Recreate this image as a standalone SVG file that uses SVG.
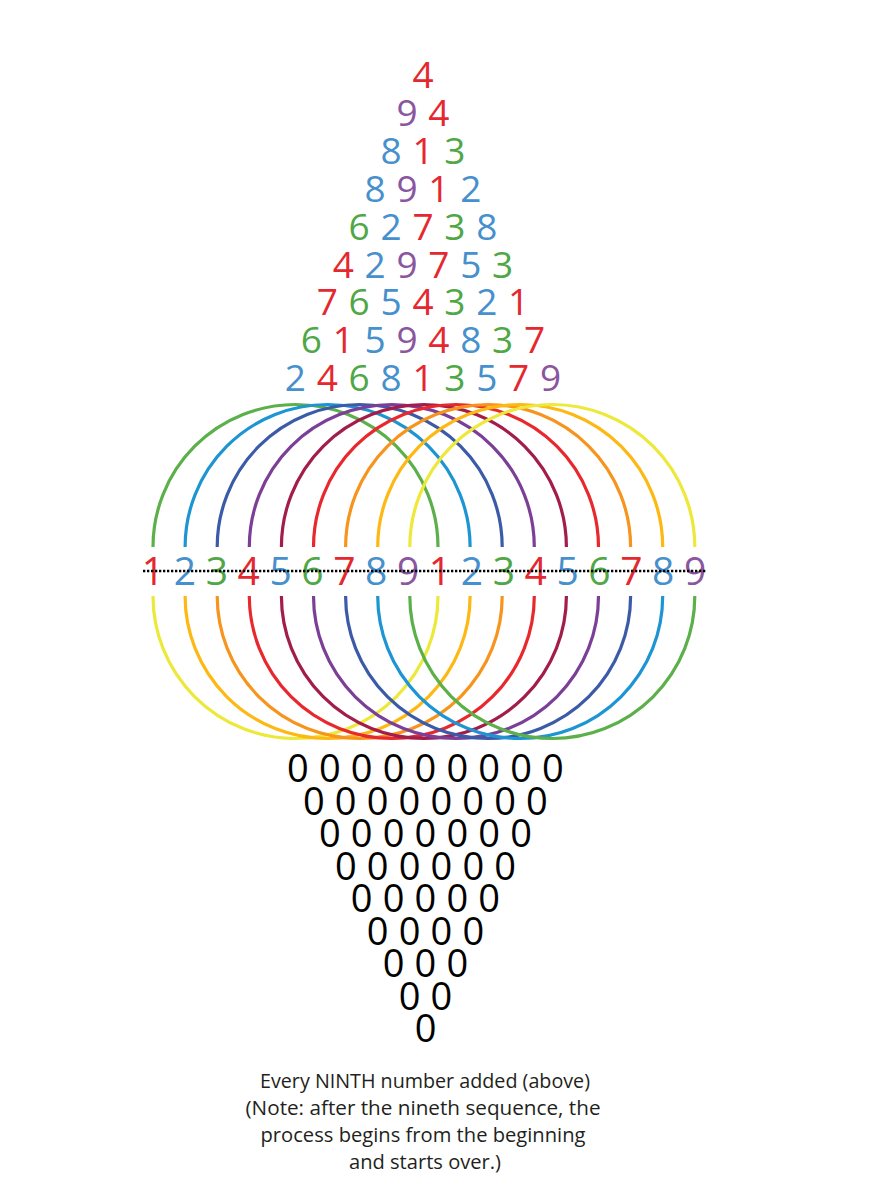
<svg xmlns="http://www.w3.org/2000/svg" width="885" height="1182" viewBox="0 0 885 1182">
<style>
.d{font-family:"Open Sans","Noto Sans","Liberation Sans",sans-serif}
.tri{font-size:37px;letter-spacing:0.56px}
.row{font-size:39px;letter-spacing:-0.28px}
.z{font-size:38px;letter-spacing:0.14px;fill:#000}
.r{fill:#e5282f}.b{fill:#4690cd}.g{fill:#50a746}.p{fill:#8b55a0}
.a{fill:none;stroke-width:3.2}
.note{font-size:20px;fill:#231f20;text-anchor:middle}
</style>
<rect width="885" height="1182" fill="#fff"/>
<g id="triangle" class="d tri">
<text x="412.42" y="88"><tspan class="r">4</tspan></text>
<text x="396.47" y="125.9"><tspan class="p">9</tspan> <tspan class="r">4</tspan></text>
<text x="380.52" y="163.8"><tspan class="b">8</tspan> <tspan class="r">1</tspan> <tspan class="g">3</tspan></text>
<text x="364.57" y="201.7"><tspan class="b">8</tspan> <tspan class="p">9</tspan> <tspan class="r">1</tspan> <tspan class="b">2</tspan></text>
<text x="348.62" y="239.6"><tspan class="g">6</tspan> <tspan class="b">2</tspan> <tspan class="r">7</tspan> <tspan class="g">3</tspan> <tspan class="b">8</tspan></text>
<text x="332.67" y="277.5"><tspan class="r">4</tspan> <tspan class="b">2</tspan> <tspan class="p">9</tspan> <tspan class="r">7</tspan> <tspan class="b">5</tspan> <tspan class="g">3</tspan></text>
<text x="316.72" y="315.4"><tspan class="r">7</tspan> <tspan class="g">6</tspan> <tspan class="b">5</tspan> <tspan class="r">4</tspan> <tspan class="g">3</tspan> <tspan class="b">2</tspan> <tspan class="r">1</tspan></text>
<text x="300.77" y="353.3"><tspan class="g">6</tspan> <tspan class="r">1</tspan> <tspan class="b">5</tspan> <tspan class="p">9</tspan> <tspan class="r">4</tspan> <tspan class="b">8</tspan> <tspan class="g">3</tspan> <tspan class="r">7</tspan></text>
<text x="284.82" y="391.2"><tspan class="b">2</tspan> <tspan class="r">4</tspan> <tspan class="g">6</tspan> <tspan class="b">8</tspan> <tspan class="r">1</tspan> <tspan class="g">3</tspan> <tspan class="b">5</tspan> <tspan class="r">7</tspan> <tspan class="p">9</tspan></text>
</g>
<g id="upper-arcs" class="a">
<path d="M153,547A142.5,142.5 0 0 1 438,547" stroke="#5bb04a"/>
<path d="M185.1,547A142.5,142.5 0 0 1 470.1,547" stroke="#1d95d3"/>
<path d="M217.2,547A142.5,142.5 0 0 1 502.2,547" stroke="#3b5ba8"/>
<path d="M249.3,547A142.5,142.5 0 0 1 534.3,547" stroke="#7b3f98"/>
<path d="M281.4,547A142.5,142.5 0 0 1 566.4,547" stroke="#a31d4a"/>
<path d="M313.5,547A142.5,142.5 0 0 1 598.5,547" stroke="#e9282e"/>
<path d="M345.6,547A142.5,142.5 0 0 1 630.6,547" stroke="#f7941d"/>
<path d="M377.7,547A142.5,142.5 0 0 1 662.7,547" stroke="#fdb813"/>
<path d="M409.8,547A142.5,142.5 0 0 1 694.8,547" stroke="#ece93a"/>
</g>
<g id="lower-arcs" class="a">
<path d="M153,596A142.5,142.5 0 0 0 438,596" stroke="#ece93a"/>
<path d="M185.1,596A142.5,142.5 0 0 0 470.1,596" stroke="#fdb813"/>
<path d="M217.2,596A142.5,142.5 0 0 0 502.2,596" stroke="#f7941d"/>
<path d="M249.3,596A142.5,142.5 0 0 0 534.3,596" stroke="#e9282e"/>
<path d="M281.4,596A142.5,142.5 0 0 0 566.4,596" stroke="#a31d4a"/>
<path d="M313.5,596A142.5,142.5 0 0 0 598.5,596" stroke="#7b3f98"/>
<path d="M345.6,596A142.5,142.5 0 0 0 630.6,596" stroke="#3b5ba8"/>
<path d="M377.7,596A142.5,142.5 0 0 0 662.7,596" stroke="#1d95d3"/>
<path d="M409.8,596A142.5,142.5 0 0 0 694.8,596" stroke="#5bb04a"/>
</g>
<g id="number-row" class="d row">
<text x="141.85" y="585"><tspan class="r">1</tspan> <tspan class="b">2</tspan> <tspan class="g">3</tspan> <tspan class="r">4</tspan> <tspan class="b">5</tspan> <tspan class="g">6</tspan> <tspan class="r">7</tspan> <tspan class="b">8</tspan> <tspan class="p">9</tspan> <tspan class="r">1</tspan> <tspan class="b">2</tspan> <tspan class="g">3</tspan> <tspan class="r">4</tspan> <tspan class="b">5</tspan> <tspan class="g">6</tspan> <tspan class="r">7</tspan> <tspan class="b">8</tspan> <tspan class="p">9</tspan></text>
</g>
<line id="dotted-line" x1="143" y1="571" x2="707" y2="571" stroke="#000" stroke-width="2.5" stroke-dasharray="2.3 1.7"/>
<g id="zeros" class="d z">
<text x="287.03" y="782">0 0 0 0 0 0 0 0 0</text>
<text x="302.98" y="814.5">0 0 0 0 0 0 0 0</text>
<text x="318.93" y="847">0 0 0 0 0 0 0</text>
<text x="334.88" y="879.5">0 0 0 0 0 0</text>
<text x="350.83" y="912">0 0 0 0 0</text>
<text x="366.78" y="944.5">0 0 0 0</text>
<text x="382.73" y="977">0 0 0</text>
<text x="398.68" y="1009.5">0 0</text>
<text x="414.63" y="1042">0</text>
</g>
<g id="caption" class="d note">
<text x="425" y="1088" textLength="330" lengthAdjust="spacingAndGlyphs">Every NINTH number added (above)</text>
<text x="423" y="1115" textLength="355" lengthAdjust="spacingAndGlyphs">(Note: after the nineth sequence, the</text>
<text x="423" y="1142" textLength="325" lengthAdjust="spacingAndGlyphs">process begins from the beginning</text>
<text x="425" y="1169" textLength="152" lengthAdjust="spacingAndGlyphs">and starts over.)</text>
</g>
</svg>
